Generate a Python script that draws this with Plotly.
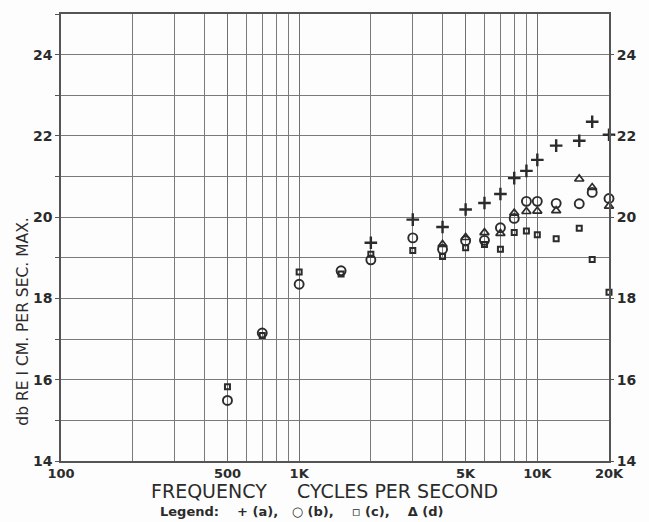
import plotly.graph_objects as go

# Frequencies (Hz) and measured levels for each series
freq_a = [2000, 3000, 4000, 5000, 6000, 7000, 8000, 9000, 10000, 12000, 15000, 17000, 20000]
level_a = [19.37, 19.94, 19.76, 20.19, 20.35, 20.57, 20.96, 21.14, 21.41, 21.76, 21.88, 22.35, 22.03]

freq_b = [500, 700, 1000, 1500, 2000, 3000, 4000, 5000, 6000, 7000, 8000, 9000, 10000, 12000, 15000, 17000, 20000]
level_b = [15.49, 17.15, 18.35, 18.68, 18.95, 19.49, 19.21, 19.42, 19.43, 19.74, 19.97, 20.39, 20.39, 20.34, 20.33, 20.61, 20.46]

freq_c = [500, 700, 1000, 1500, 2000, 3000, 4000, 5000, 6000, 7000, 8000, 9000, 10000, 12000, 15000, 17000, 20000]
level_c = [15.83, 17.09, 18.65, 18.60, 19.09, 19.18, 19.03, 19.25, 19.33, 19.21, 19.62, 19.66, 19.57, 19.47, 19.73, 18.96, 18.15]

freq_d = [4000, 5000, 6000, 7000, 8000, 9000, 10000, 12000, 15000, 17000, 20000]
level_d = [19.33, 19.50, 19.62, 19.60, 20.10, 20.14, 20.15, 20.16, 20.94, 20.73, 20.27]

# Axis ticks
grid_freqs = [200, 300, 400, 500, 600, 700, 800, 900,
              1000, 2000, 3000, 4000, 5000, 6000, 7000, 8000, 9000, 10000, 20000]
heavy_freqs = [500, 1000, 5000, 10000]
freq_labels = {100: "100", 500: "500", 1000: "1K", 5000: "5K", 10000: "10K", 20000: "20K"}
level_ticks = [14, 16, 18, 20, 22, 24]

INK = "#2b2b2b"
GRID = "#7a7a7a"
FONT = "DejaVu Sans"

x_tickvals = [100] + grid_freqs
x_ticktext = [freq_labels.get(f, "") for f in x_tickvals]

fig = go.Figure()

def add_series(x, y, symbol, size, lw):
    fig.add_trace(go.Scatter(
        x=x, y=y, mode="markers", cliponaxis=False, showlegend=False,
        marker=dict(symbol=symbol, size=size, color=INK,
                    line=dict(color=INK, width=lw)),
    ))

add_series(freq_a, level_a, "cross-thin-open", 9, 2.4)
add_series(freq_b, level_b, "circle-open", 9, 1.9)
add_series(freq_c, level_c, "square-open", 5, 2.0)
add_series(freq_d, level_d, "triangle-up-open", 8, 1.7)

# Invisible traces carrying the right-hand scale and the heavier decade rules
fig.add_trace(go.Scatter(x=[1000], y=[20], yaxis="y2", mode="markers",
                         marker=dict(opacity=0), showlegend=False, hoverinfo="skip"))
fig.add_trace(go.Scatter(x=[1000], y=[20], xaxis="x2", mode="markers",
                         marker=dict(opacity=0), showlegend=False, hoverinfo="skip"))

tick_font = dict(size=14, family=FONT, weight="bold", color=INK)

fig.update_layout(
    width=649, height=522,
    margin=dict(l=61, r=30, t=12, b=61),
    paper_bgcolor="#fdfdfd", plot_bgcolor="#fdfdfd",
    font=dict(family=FONT, color=INK),
    xaxis=dict(
        type="log", range=[2, 4.30103],
        tickmode="array", tickvals=x_tickvals, ticktext=x_ticktext,
        showgrid=True, gridcolor=GRID, gridwidth=1,
        showline=True, linecolor="#555", linewidth=1.5, mirror=True,
        ticks="", tickfont=dict(size=13, family=FONT, weight="bold", color=INK),
        zeroline=False,
    ),
    xaxis2=dict(
        type="log", range=[2, 4.30103], overlaying="x",
        tickmode="array", tickvals=heavy_freqs, showticklabels=False,
        showgrid=True, gridcolor="#707070", gridwidth=1.3,
        showline=False, zeroline=False, ticks="",
    ),
    yaxis=dict(
        range=[14, 25], tickmode="array",
        tickvals=list(range(14, 26)),
        ticktext=[str(v) if v in level_ticks else "" for v in range(14, 26)],
        showgrid=True, gridcolor=GRID, gridwidth=1.3,
        showline=True, linecolor="#555", linewidth=1.5, mirror=True,
        ticks="outside", ticklen=4, tickcolor="#555",
        tickfont=tick_font, zeroline=False,
    ),
    yaxis2=dict(
        range=[14, 25], overlaying="y", side="right",
        tickmode="array", tickvals=level_ticks,
        ticktext=[str(v) for v in level_ticks],
        showgrid=False, zeroline=False,
        ticks="outside", ticklen=4, tickcolor="#555",
        tickfont=tick_font,
    ),
    annotations=[
        dict(text="FREQUENCY     CYCLES PER SECOND", xref="paper", yref="paper",
             x=0.480, y=-0.068, xanchor="center", yanchor="middle", showarrow=False,
             font=dict(size=19, family=FONT, color=INK)),
        dict(text="Legend:    + (a),   ○ (b),    ▫ (c),    Δ (d)", xref="paper", yref="paper",
             x=0.440, y=-0.113, xanchor="center", yanchor="middle", showarrow=False,
             font=dict(size=13, family=FONT, color=INK, weight="bold")),
        dict(text="db RE I CM. PER SEC. MAX.", xref="paper", yref="paper",
             x=-0.071, y=0.312, xanchor="center", yanchor="middle", showarrow=False,
             textangle=-90,
             font=dict(size=15.5, family=FONT, color=INK)),
    ],
)

fig.write_html("out.html")
